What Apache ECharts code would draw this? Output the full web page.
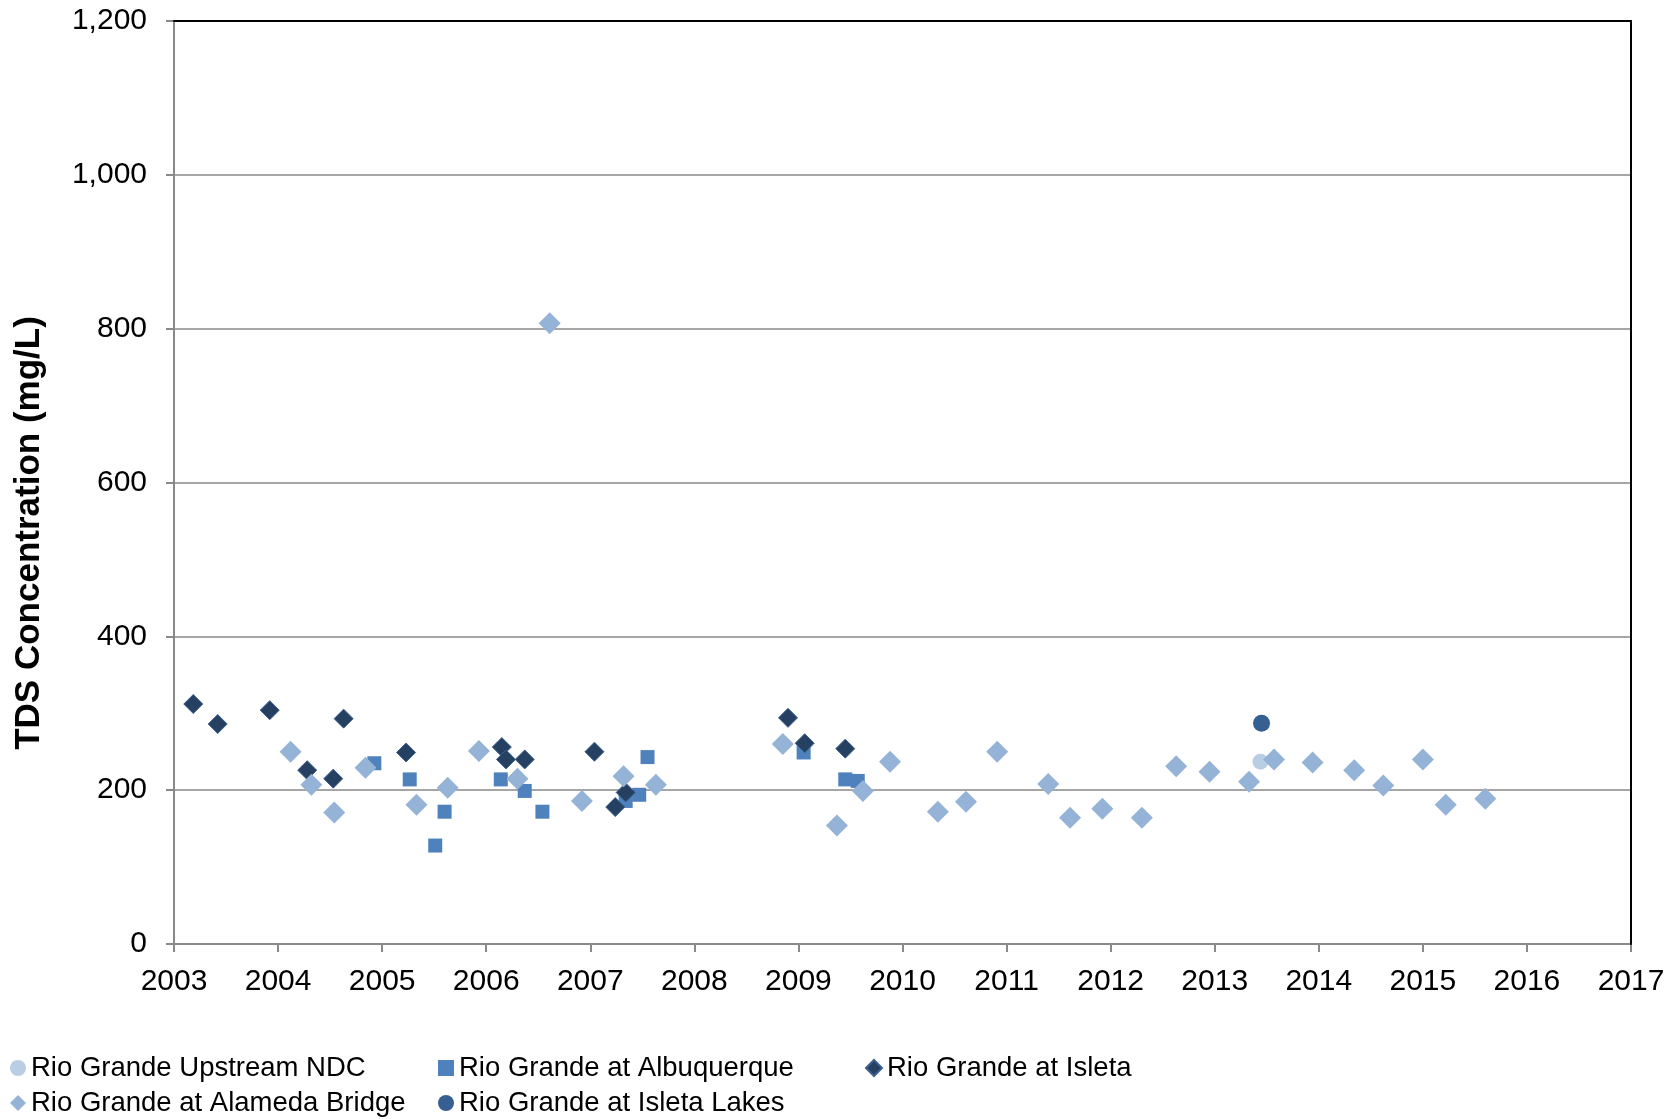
<!DOCTYPE html>
<html>
<head>
<meta charset="utf-8">
<script src="https://cdn.jsdelivr.net/npm/echarts@6/dist/echarts.min.js"></script>
<style>
html,body{margin:0;padding:0;background:#fff;}
#chart{width:1679px;height:1119px;}
</style>
</head>
<body>
<div id="chart"></div>
<script>
// Series names
var seriesNames = ['Rio Grande Upstream NDC', 'Rio Grande at Albuquerque', 'Rio Grande at Isleta', 'Rio Grande at Alameda Bridge', 'Rio Grande at Isleta Lakes'];

// Data: [decimal year, TDS mg/L]
var upstreamNDC = [[2013.44, 237]];

var albuquerque = [
  [2004.925, 235], [2005.265, 214], [2005.51, 128], [2005.60, 172],
  [2006.14, 214], [2006.37, 199], [2006.54, 172], [2007.34, 186],
  [2007.47, 194], [2007.55, 243], [2009.05, 249], [2009.45, 214], [2009.57, 212]
];

var isleta = [
  [2003.185, 312], [2003.42, 286], [2003.92, 304], [2004.28, 226],
  [2004.53, 215], [2004.63, 293], [2005.23, 249], [2006.15, 256],
  [2006.19, 240], [2006.37, 240], [2007.04, 250], [2007.24, 178],
  [2007.34, 197], [2008.90, 294], [2009.06, 261], [2009.45, 254]
];

var alamedaBridge = [
  [2004.12, 250], [2004.32, 207], [2004.54, 171], [2004.84, 229],
  [2005.33, 181], [2005.63, 203], [2005.93, 251], [2006.30, 215],
  [2006.61, 807], [2006.92, 186], [2007.32, 218], [2007.63, 207],
  [2008.85, 260], [2009.37, 154], [2009.62, 199], [2009.88, 237],
  [2010.34, 172], [2010.61, 185], [2010.91, 250], [2011.40, 208],
  [2011.61, 164], [2011.92, 176], [2012.30, 164], [2012.63, 231],
  [2012.95, 224], [2013.33, 211], [2013.57, 240], [2013.94, 236],
  [2014.34, 226], [2014.62, 206], [2015.00, 240], [2015.22, 181],
  [2015.60, 189]
];

var isletaLakes = [[2013.45, 287]];

var xMin = 2003, xMax = 2017, xStep = 1;
var yMin = 0, yMax = 1200, yStep = 200;

var FONT = '"Liberation Sans", Arial, sans-serif';
var GRAY = '#898989';

function fmtThousands(v) {
  return String(v).replace(/\B(?=(\d{3})+(?!\d))/g, ',');
}

var chart = echarts.init(document.getElementById('chart'), null, {renderer: 'canvas'});

function makeLegend(name, icon, left, top) {
  return {
    orient: 'horizontal',
    left: left,
    top: top,
    itemWidth: 16,
    itemHeight: 16,
    itemGap: 5,
    padding: 0,
    selectedMode: false,
    textStyle: {fontFamily: FONT, fontSize: 27.5, color: '#000', padding: [0, 0, 0, 0]},
    data: [{name: name, icon: icon}]
  };
}

var legendCols = [10, 438, 865];
var legendRows = [1054, 1089];

var option = {
  backgroundColor: '#ffffff',
  animation: false,
  textStyle: {fontFamily: FONT},
  grid: {left: 174, right: 48, top: 21, bottom: 175, outerBoundsMode: 'none', containLabel: false},
  legend: [
    makeLegend(seriesNames[0], 'circle', legendCols[0], legendRows[0]),
    makeLegend(seriesNames[1], 'rect', legendCols[1], legendRows[0]),
    makeLegend(seriesNames[2], 'diamond', legendCols[2], legendRows[0]),
    makeLegend(seriesNames[3], 'diamond', legendCols[0], legendRows[1]),
    makeLegend(seriesNames[4], 'circle', legendCols[1], legendRows[1])
  ],
  xAxis: [{
    type: 'value', min: xMin, max: xMax, interval: xStep,
    axisLine: {show: true, onZero: false, lineStyle: {color: GRAY, width: 2}},
    axisTick: {show: true, length: 8, lineStyle: {color: GRAY, width: 2}},
    axisLabel: {fontSize: 30, color: '#000', margin: 23, fontFamily: FONT,
      formatter: function (v) { return String(Math.round(v)); }},
    splitLine: {show: false}
  }, {
    type: 'value', position: 'top', min: xMin, max: xMax, interval: xStep,
    axisLine: {show: true, onZero: false, lineStyle: {color: '#000', width: 2}},
    axisTick: {show: false}, axisLabel: {show: false}, splitLine: {show: false}, z: 5
  }],
  yAxis: [{
    type: 'value', min: yMin, max: yMax, interval: yStep,
    axisLine: {show: true, onZero: false, lineStyle: {color: GRAY, width: 2}},
    axisTick: {show: true, length: 8, lineStyle: {color: GRAY, width: 2}},
    axisLabel: {fontSize: 30, color: '#000', margin: 27, fontFamily: FONT, formatter: fmtThousands},
    splitLine: {show: true, lineStyle: {color: GRAY, width: 1.5}}
  }, {
    type: 'value', position: 'right', min: yMin, max: yMax, interval: yStep,
    axisLine: {show: true, onZero: false, lineStyle: {color: '#000', width: 2}},
    axisTick: {show: false}, axisLabel: {show: false}, splitLine: {show: false}, z: 5
  }],
  graphic: [{
    type: 'text',
    x: 29, y: 533,
    rotation: Math.PI / 2,
    style: {
      text: 'TDS Concentration (mg/L)',
      font: 'bold 35px "Liberation Sans", Arial, sans-serif',
      fill: '#000',
      textAlign: 'center',
      textVerticalAlign: 'middle'
    }
  }],
  series: [
    {name: seriesNames[0], type: 'scatter', data: upstreamNDC, symbol: 'circle', symbolSize: 16,
     itemStyle: {color: '#B9CDE5', opacity: 1}},
    {name: seriesNames[1], type: 'scatter', data: albuquerque, symbol: 'rect', symbolSize: 14,
     itemStyle: {color: '#4F81BD', opacity: 1}},
    {name: seriesNames[2], type: 'scatter', data: isleta, symbol: 'diamond', symbolSize: 19,
     itemStyle: {color: '#254061', borderColor: '#3B5F8E', borderWidth: 1, opacity: 1}},
    {name: seriesNames[3], type: 'scatter', data: alamedaBridge, symbol: 'diamond', symbolSize: 22,
     itemStyle: {color: '#95B3D7', opacity: 1}},
    {name: seriesNames[4], type: 'scatter', data: isletaLakes, symbol: 'circle', symbolSize: 17,
     itemStyle: {color: '#366092', opacity: 1}}
  ]
};

chart.setOption(option);
</script>
</body>
</html>
